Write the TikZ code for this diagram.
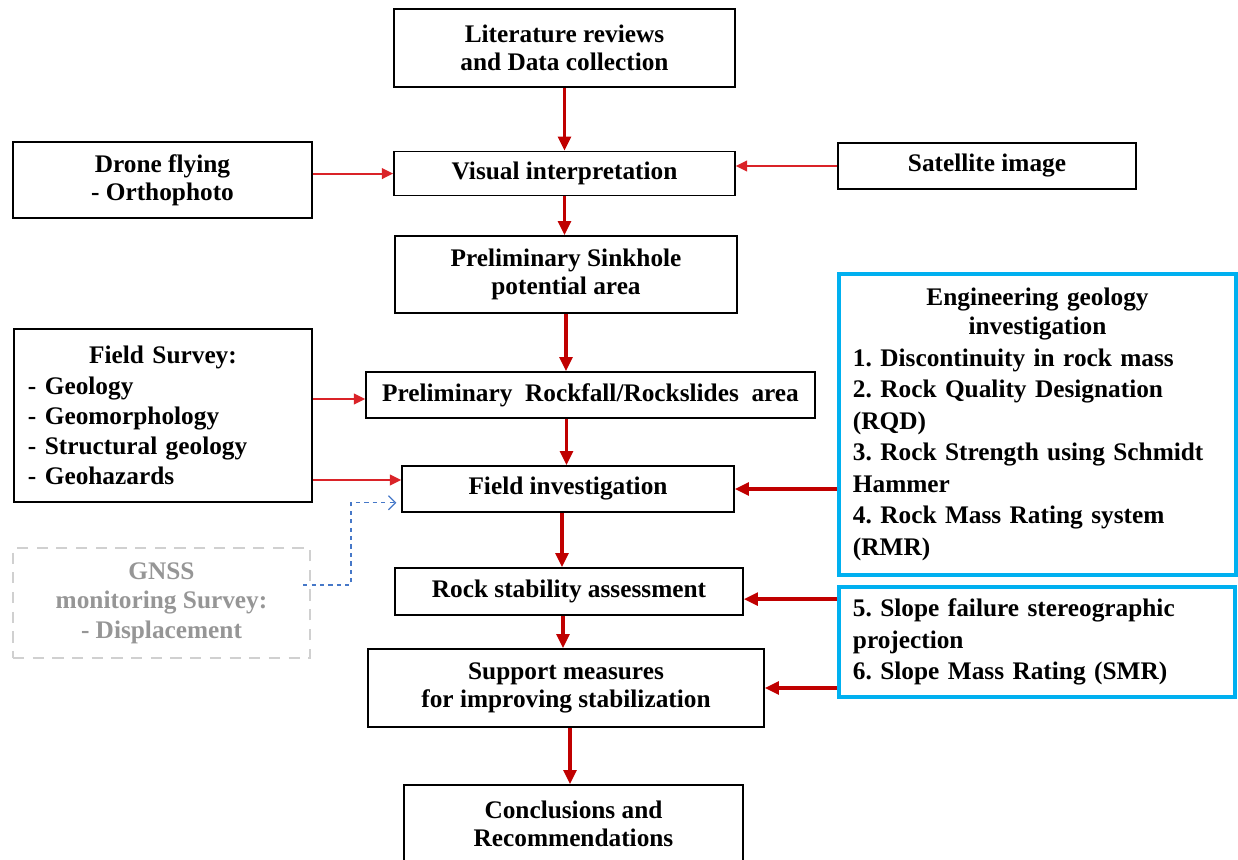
\documentclass[tikz,border=0pt]{standalone}
\usepackage{fontspec}
\setmainfont{Liberation Serif}
\usetikzlibrary{positioning, arrows.meta}
\definecolor{flowred}{RGB}{192,0,0}
\definecolor{linkred}{RGB}{218,35,40}
\definecolor{engblue}{RGB}{0,176,240}
\definecolor{gnssgray}{RGB}{150,150,150}
\definecolor{gnssframe}{RGB}{208,208,208}
\definecolor{gnssblue}{RGB}{70,120,200}
\tikzset{
box/.style={draw, line width=1.1pt, inner sep=0pt, align=center,
  font=\fontsize{18}{20}\selectfont\bfseries\frenchspacing},
listbox/.style={box, align=left, font=\fontsize{18}{21.4}\selectfont\bfseries\frenchspacing},
engbox/.style={listbox, draw=engblue, line width=2.6pt,
  font=\fontsize{18}{22.4}\selectfont\bfseries\frenchspacing},
gnssbox/.style={box, draw=gnssframe, dash pattern=on 8pt off 6pt, line width=1.5pt,
  text=gnssgray, font=\fontsize{18}{21}\selectfont\bfseries},
flow/.style={-{Triangle[length=10pt,width=9pt]}, draw=flowred, line width=2.4pt},
link/.style={-{Triangle[length=8pt,width=7.5pt]}, draw=linkred, line width=1.5pt},
gnsslink/.style={-{Straight Barb[length=5pt,width=10pt]}, draw=gnssblue,
  dashed, line width=0.9pt}
}
\newcommand{\midline}[1]{\makebox[\linewidth]{#1}}

\begin{document}
\begin{tikzpicture}[x=0.025cm,y=-0.025cm]
\useasboundingbox (0,0) rectangle (1238,860);
% main column
\node[box, minimum width=8.525cm, minimum height=1.95cm] (lit) at (564.5,48) {Literature reviews\\and Data collection};
\node[box, minimum width=8.525cm, minimum height=1.1cm, below=1.575cm of lit] (vis) {Visual interpretation};
\node[box, minimum width=8.55cm, minimum height=1.925cm] (sink) at (566,274.5) {Preliminary Sinkhole\\potential area};
\node[box, minimum width=11.225cm, minimum height=1.15cm] (rock) at (590.5,395) {Preliminary \ Rockfall/Rockslides \ area};
\node[box, minimum width=8.3cm, minimum height=1.15cm] (fi) at (568,489) {Field investigation};
\node[box, minimum width=8.7cm, minimum height=1.175cm] (rs) at (569,591.5) {Rock stability assessment};
\node[box, minimum width=9.9cm, minimum height=1.95cm] (sup) at (566,688) {Support measures\\for improving stabilization};
\node[box, minimum width=8.475cm, minimum height=1.925cm] (conc) at (573.5,823.5) {Conclusions and\\Recommendations};
% side inputs
\node[box, minimum width=7.475cm, minimum height=1.9cm] (drone) at (162.5,180) {Drone flying\\- Orthophoto};
\node[box, minimum width=7.45cm, minimum height=1.15cm] (sat) at (987,166) {Satellite image};
\node[listbox, minimum width=7.45cm, minimum height=4.325cm, text width=6.75cm] (fs) at (163,415.5)
  {\midline{Field Survey:}\\- Geology\\- Geomorphology\\- Structural geology\\- Geohazards};
\node[gnssbox, minimum width=7.425cm, minimum height=2.75cm] (gnss) at (161.5,603)
  {GNSS\\monitoring Survey:\\- Displacement};
\node[engbox, minimum width=9.925cm, minimum height=7.525cm, text width=9.225cm] (eng) at (1037.5,424.5)
  {\midline{Engineering geology}\\[-2pt]\midline{investigation}\\1. Discontinuity in rock mass\\2. Rock Quality Designation\\(RQD)\\3. Rock Strength using Schmidt\\Hammer\\4. Rock Mass Rating system\\(RMR)};
\node[engbox, minimum width=9.9cm, minimum height=2.75cm, text width=9.2cm] (slope) at (1037,642)
  {5. Slope failure stereographic\\projection\\6. Slope Mass Rating (SMR)};

\draw[flow] (lit.south) -- (lit.south |- vis.north);
\draw[flow] (vis.south) -- (vis.south |- sink.north);
\draw[flow] (sink.south) -- (sink.south |- rock.north);
\draw[flow] ([xshift=-0.6cm]rock.south) -- ([xshift=-0.6cm]rock.south |- fi.north);
\draw[flow] ([xshift=-0.15cm]fi.south) -- ([xshift=-0.15cm]fi.south |- rs.north);
\draw[flow] ([xshift=-0.15cm]rs.south) -- ([xshift=-0.15cm]rs.south |- sup.north);
\draw[flow] ([xshift=0.1cm]sup.south) -- ([xshift=0.1cm]sup.south |- conc.north);

\draw[link] (drone.east |- vis.west) -- (vis.west);
\draw[link] (sat.west) -- (sat.west -| vis.east);
\draw[link] ([yshift=-0.1cm]fs.east |- rock.west) -- ([yshift=-0.1cm]rock.west);
\draw[link] ([yshift=0.225cm]fs.east |- fi.west) -- ([yshift=0.225cm]fi.west);
\draw[flow] (eng.west |- fi.east) -- (fi.east);
\draw[flow] ([yshift=-0.19cm]slope.west |- rs.east) -- ([yshift=-0.19cm]rs.east);
\draw[flow] (slope.west |- sup.east) -- (sup.east);
\draw[gnsslink] ([xshift=-0.2cm,yshift=0.45cm]gnss.east) -- ++(1.2cm,0) |- ([xshift=-0.12cm,yshift=0.25cm]fi.south west);
\end{tikzpicture}
\end{document}
